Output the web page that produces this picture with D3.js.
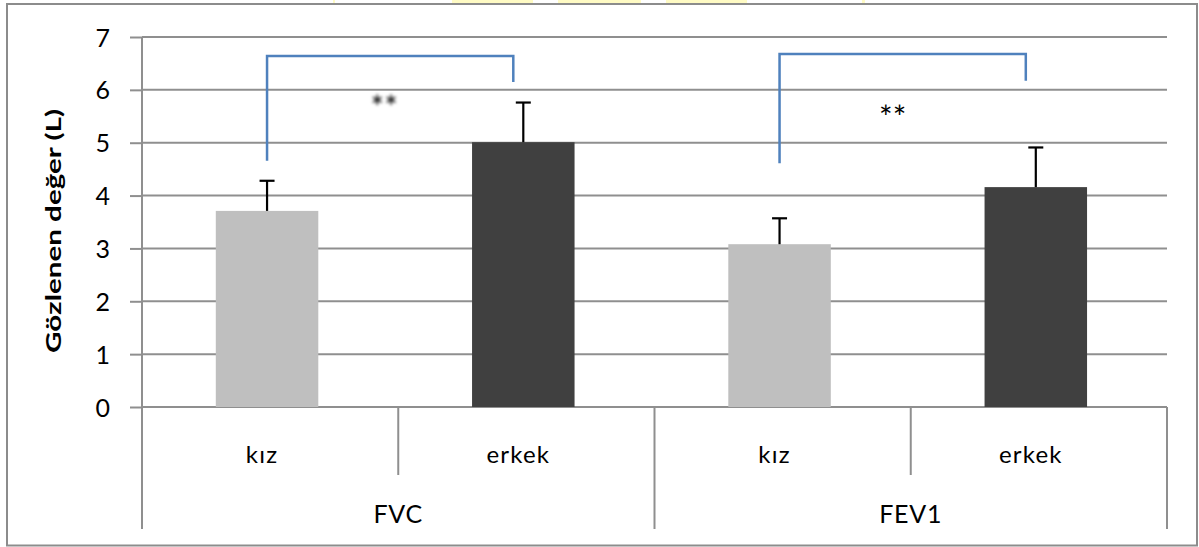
<!DOCTYPE html>
<html>
<head>
<meta charset="utf-8">
<script src="https://cdn.jsdelivr.net/npm/d3@7"></script>
<style>
  html, body { margin: 0; padding: 0; background: #fff; }
  svg { display: block; }
  text { font-family: Lato, "Liberation Sans", sans-serif; fill: #000; }
</style>
</head>
<body>
<svg id="chart" width="1199" height="547"></svg>
<script>
// ---- data ----
const groups = ["FVC", "FEV1"];
const sexes = ["kız", "erkek"];
const means = [3.71, 5.01, 3.08, 4.16];   // FVC kız, FVC erkek, FEV1 kız, FEV1 erkek
const sds   = [0.57, 0.75, 0.49, 0.75];
const yTicks = [0, 1, 2, 3, 4, 5, 6, 7];
const bracketTop   = [6.64, 6.68];
const bracketLeft  = [4.66, 4.61];
const bracketRight = [6.15, 6.17];
const sigLabels = ["**", "**"];
const sigY = [5.80, 5.61];
const yTitle = "Gözlenen değer (L)";

// ---- layout ----
const svg = d3.select("#chart");
const plot = { left: 142, right: 1167, top: 37, bottom: 407 };
const catIdx = d3.range(means.length);

const x = d3.scaleBand().domain(catIdx).range([plot.left, plot.right])
  .paddingInner(0.6).paddingOuter(0.3).align(0.48);
const y = d3.scaleLinear().domain([0, 7]).range([plot.bottom, plot.top]);
const step = x.step();

// faint yellow marks at top edge
[[452, 81], [558, 83], [666, 81], [333, 2], [862, 3]].forEach(([x0, w]) => {
  svg.append("rect").attr("x", x0).attr("y", 0).attr("width", w).attr("height", 3)
    .attr("fill", "#fffbc4");
});

// outer frame
svg.append("rect").attr("x", 7).attr("y", 4).attr("width", 1190).attr("height", 541.5)
  .attr("fill", "none").attr("stroke", "#8c8c8c").attr("stroke-width", 2);

// gridlines
svg.append("g").selectAll("line").data(yTicks.filter(d => d > 0)).join("line")
  .attr("x1", plot.left).attr("x2", plot.right)
  .attr("y1", d => y(d)).attr("y2", d => y(d))
  .attr("stroke", "#8f8f8f").attr("stroke-width", 2);

// y axis
const yAxis = svg.append("g").attr("transform", `translate(${plot.left},0)`)
  .call(d3.axisLeft(y).tickValues(yTicks).tickSize(12).tickPadding(20).tickFormat(d3.format("d")));
yAxis.select(".domain").remove();
yAxis.selectAll(".tick line").attr("stroke", "#8f8f8f").attr("stroke-width", 2);
yAxis.selectAll(".tick text").attr("font-size", 25).attr("font-family", "Lato, sans-serif")
  .attr("fill", "#000").attr("dy", "0.36em");
svg.append("line").attr("x1", plot.left).attr("x2", plot.left)
  .attr("y1", plot.top).attr("y2", 529).attr("stroke", "#8f8f8f").attr("stroke-width", 2);

// y title
svg.append("text")
  .attr("transform", `translate(61,231) rotate(-90)`)
  .attr("text-anchor", "middle")
  .attr("font-family", "'Open Sans', sans-serif")
  .attr("font-size", 21).attr("font-weight", "bold")
  .attr("textLength", 244).attr("lengthAdjust", "spacingAndGlyphs")
  .text(yTitle);

// x baseline
svg.append("line").attr("x1", plot.left).attr("x2", plot.right)
  .attr("y1", y(0)).attr("y2", y(0)).attr("stroke", "#8f8f8f").attr("stroke-width", 2);

// category dividers
const boundaries = d3.range(1, means.length + 1).map(i => ({ i, xb: plot.left + i * step }));
svg.append("g").selectAll("line").data(boundaries).join("line")
  .attr("x1", d => d.xb).attr("x2", d => d.xb)
  .attr("y1", y(0)).attr("y2", d => d.i % 2 === 0 ? 529 : 475)
  .attr("stroke", "#8f8f8f").attr("stroke-width", 2);

// bars
const colors = ["#bfbfbf", "#404040"];
svg.append("g").selectAll("rect").data(catIdx).join("rect")
  .attr("x", i => x(i)).attr("width", x.bandwidth())
  .attr("y", i => y(means[i])).attr("height", i => y(0) - y(means[i]))
  .attr("fill", i => colors[i % 2]);

// error bars
const eb = svg.append("g").attr("stroke", "#000").attr("stroke-width", 2.2);
catIdx.forEach(i => {
  const cx = x(i) + x.bandwidth() / 2;
  eb.append("line").attr("x1", cx).attr("x2", cx)
    .attr("y1", y(means[i])).attr("y2", y(means[i] + sds[i]));
  eb.append("line").attr("x1", cx - 7.5).attr("x2", cx + 7.5)
    .attr("y1", y(means[i] + sds[i])).attr("y2", y(means[i] + sds[i]));
});

// category labels
svg.append("g").selectAll("text").data(catIdx).join("text")
  .attr("x", i => x(i) + x.bandwidth() / 2 - 5)
  .attr("y", 463)
  .attr("text-anchor", "middle").attr("font-size", 24).attr("letter-spacing", 1.2)
  .text(i => sexes[i % 2]);

// group labels
svg.append("g").selectAll("text").data(groups).join("text")
  .attr("x", (d, g) => plot.left + (2 * g + 1) * step)
  .attr("y", 523)
  .attr("text-anchor", "middle").attr("font-size", 25).attr("letter-spacing", 0.8)
  .text(d => d);

// significance brackets
const defs = svg.append("defs");
defs.append("filter").attr("id", "blur").attr("x", "-20%").attr("y", "-50%")
  .attr("width", "140%").attr("height", "200%")
  .append("feGaussianBlur").attr("stdDeviation", 1.6);

groups.forEach((gname, g) => {
  const xl = x(2 * g) + x.bandwidth() / 2;
  const xr = x(2 * g + 1) + x.bandwidth() / 2 - 10;
  svg.append("path")
    .attr("d", `M${xl},${y(bracketLeft[g])}V${y(bracketTop[g])}H${xr}V${y(bracketRight[g])}`)
    .attr("fill", "none").attr("stroke", "#4f81bd").attr("stroke-width", 2.5);
  const t = svg.append("text")
    .attr("x", (xl + xr) / 2 - 6 - 4 * g)
    .attr("y", y(sigY[g]) + 19)
    .attr("text-anchor", "middle")
    .attr("font-family", "'DejaVu Sans', sans-serif")
    .attr("font-size", 32).attr("letter-spacing", 0)
    .text(sigLabels[g]);
  if (g === 0) t.attr("fill", "#1a1a1a").attr("filter", "url(#blur)");
});
</script>
</body>
</html>
